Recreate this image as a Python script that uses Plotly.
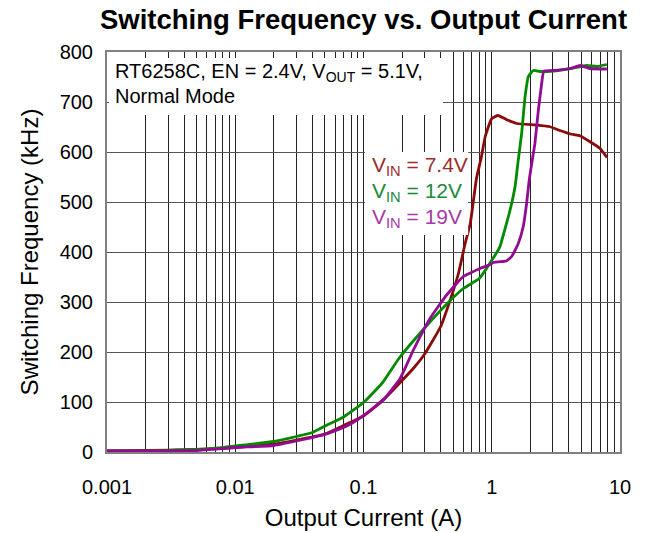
import plotly.graph_objects as go

# ---- data ----
vin74_x = [0.001, 0.002, 0.005, 0.01, 0.02, 0.03, 0.05, 0.07, 0.1, 0.14, 0.19, 0.25, 0.3, 0.4, 0.47,
           0.55, 0.62, 0.68, 0.76, 0.83, 0.89, 1.0, 1.12, 1.3, 1.57, 2.2, 2.8, 3.4, 4.1, 4.9, 5.8, 7.0, 7.9]
vin74_y = [2, 3, 5, 9, 16, 24, 36, 53, 72, 102, 137, 170, 196, 251, 301,
           357, 417, 457, 547, 590, 631, 667, 673, 665, 657, 654, 651, 643, 636, 632, 621, 607, 589]

vin12_x = [0.001, 0.002, 0.0035, 0.006, 0.01, 0.02, 0.03, 0.04, 0.052, 0.07, 0.1, 0.14, 0.19, 0.29, 0.45,
           0.6, 0.8, 0.97, 1.16, 1.2, 1.39, 1.52, 1.61, 1.71, 1.82, 1.93, 2.11, 2.38, 3.0, 4.1, 5.5, 6.6, 7.9]
vin12_y = [2, 2, 4, 6, 12, 21, 31, 39, 54, 70, 99, 138, 188, 244, 297,
           327, 347, 378, 411, 424, 484, 531, 584, 637, 711, 751, 763, 761, 762, 767, 773, 771, 775]

vin19_x = [0.001, 0.002, 0.005, 0.01, 0.02, 0.03, 0.05, 0.074, 0.1, 0.147, 0.193, 0.245, 0.33, 0.445,
           0.6, 0.68, 0.81, 0.97, 1.03, 1.23, 1.3, 1.43, 1.61, 1.76, 1.87, 1.96, 2.07, 2.17, 2.31, 2.45,
           2.55, 3.0, 4.1, 4.9, 5.8, 7.9]
vin19_y = [2, 2, 3, 9, 13, 22, 35, 52, 73, 108, 147, 204, 267, 314,
           351, 358, 367, 375, 379, 381, 382, 391, 417, 451, 497, 544, 584, 617, 684, 737,
           762, 763, 767, 773, 767, 766]

x_tickvals = [0.001, 0.01, 0.1, 1, 10]
x_ticktext = ["0.001", "0.01", "0.1", "1", "10"]
x_minor = [m * d for d in [0.001, 0.01, 0.1, 1] for m in range(2, 10)]

series = [
    ("V<sub>IN</sub> = 7.4V", vin74_x, vin74_y, "#8B0A0A", "#9B2D2D"),
    ("V<sub>IN</sub> = 12V", vin12_x, vin12_y, "#008A00", "#1A8A3A"),
    ("V<sub>IN</sub> = 19V", vin19_x, vin19_y, "#930A93", "#A83AA8"),
]

FONT = "Arial, Liberation Sans, sans-serif"

fig = go.Figure()
for name, xs, ys, col, _ in series:
    fig.add_trace(go.Scatter(x=xs, y=ys, mode="lines", name=name,
                             line=dict(color=col, width=2.8, shape="spline", smoothing=0.4),
                             showlegend=False))

# white boxes behind the text blocks
fig.add_shape(type="rect", xref="paper", yref="paper", x0=0.004, x1=0.655, y0=0.8425, y1=0.985,
              fillcolor="white", line=dict(width=0), layer="above")
fig.add_shape(type="rect", xref="paper", yref="paper", x0=0.503, x1=0.704, y0=0.5425, y1=0.75,
              fillcolor="white", line=dict(width=0), layer="above")

fig.add_annotation(xref="paper", yref="paper", x=0.0117, y=0.95, xanchor="left", yanchor="middle",
                   text="RT6258C, EN = 2.4V, V<sub>OUT</sub> = 5.1V,", showarrow=False,
                   font=dict(family=FONT, size=20, color="black"))
fig.add_annotation(xref="paper", yref="paper", x=0.0117, y=0.89, xanchor="left", yanchor="middle",
                   text="Normal Mode", showarrow=False,
                   font=dict(family=FONT, size=20, color="black"))

leg_y = [0.715, 0.65, 0.585]
for (name, _, _, _, tcol), yy in zip(series, leg_y):
    fig.add_annotation(xref="paper", yref="paper", x=0.5127, y=yy, xanchor="left", yanchor="middle",
                       text=name, showarrow=False, font=dict(family=FONT, size=21, color=tcol))

fig.update_layout(
    width=650, height=533,
    margin=dict(l=107, r=30, t=52, b=81, autoexpand=False),
    paper_bgcolor="white", plot_bgcolor="white",
    title=dict(text="<b>Switching Frequency vs. Output Current</b>", x=0.5, xref="paper",
               y=1 - 19 / 533, yref="container", xanchor="center", yanchor="middle",
               automargin=False,
               font=dict(family=FONT, size=27.5, color="black")),
    font=dict(family=FONT, color="black"),
)
fig.update_xaxes(type="log", range=[-3, 1], tickvals=x_tickvals, ticktext=x_ticktext,
                 automargin=False,
                 showgrid=True, gridcolor="#222222", gridwidth=1,
                 minor=dict(tickvals=x_minor, showgrid=True, gridcolor="#222222", gridwidth=1, ticks=""),
                 showline=True, mirror=True, linecolor="#808080", linewidth=2,
                 ticks="", ticklabelstandoff=16, tickfont=dict(family=FONT, size=20),
                 title=dict(text="Output Current (A)", font=dict(family=FONT, size=24), standoff=12),
                 zeroline=False)
fig.update_yaxes(range=[0, 800], dtick=100, tick0=0, automargin=False,
                 showgrid=True, gridcolor="#555555", gridwidth=1,
                 showline=True, mirror=True, linecolor="#808080", linewidth=2,
                 ticks="", ticklabelstandoff=8, tickfont=dict(family=FONT, size=20),
                 title=dict(text="Switching Frequency (kHz)", font=dict(family=FONT, size=24), standoff=14),
                 zeroline=False)

fig.write_html("out.html", config={"displayModeBar": False},
               post_script="document.body.style.margin='0';document.body.style.overflow='hidden';")
